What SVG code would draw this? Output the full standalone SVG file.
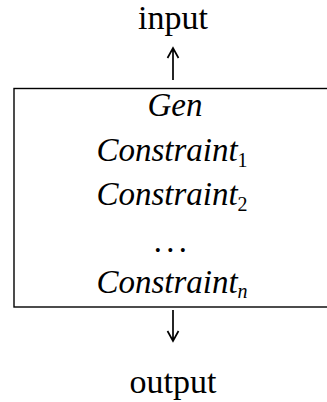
<svg xmlns="http://www.w3.org/2000/svg" width="327" height="402" viewBox="0 0 327 402">
<style>
.t{font-family:"Liberation Serif","Times New Roman",serif;fill:#000;text-anchor:middle}
.io{font-size:34px}
.m{font-size:33px;font-style:italic}
.s{font-size:20px;font-style:normal}
.sn{font-size:20px;font-style:italic}
.ln{fill:none;stroke:#000;stroke-width:1.4}
.ar{fill:none;stroke:#000;stroke-width:1.7}
</style>
<rect width="327" height="402" fill="#fff"/>
<g id="input"><text class="t io" x="173" y="29">input</text></g>
<g id="output"><text class="t io" x="173" y="393">output</text></g>
<g id="pipeline">
<rect class="ln" x="14" y="88.5" width="322" height="218.5"/>
<text class="t m" x="175" y="116">Gen</text>
<text class="t m" x="172" y="161">Constraint<tspan class="s" dy="6">1</tspan></text>
<text class="t m" x="172" y="205">Constraint<tspan class="s" dy="6">2</tspan></text>
<text class="t m" x="170" y="252" letter-spacing="-2">. . .</text>
<text class="t m" x="172" y="293">Constraint<tspan class="sn" dy="5">n</tspan></text>
</g>
<g id="connectors">
<path class="ar" d="M173 80V48M167.5 58L173 48L178.5 58"/>
<path class="ar" d="M173 310V341M167.5 331L173 341L178.5 331"/>
</g>
</svg>
